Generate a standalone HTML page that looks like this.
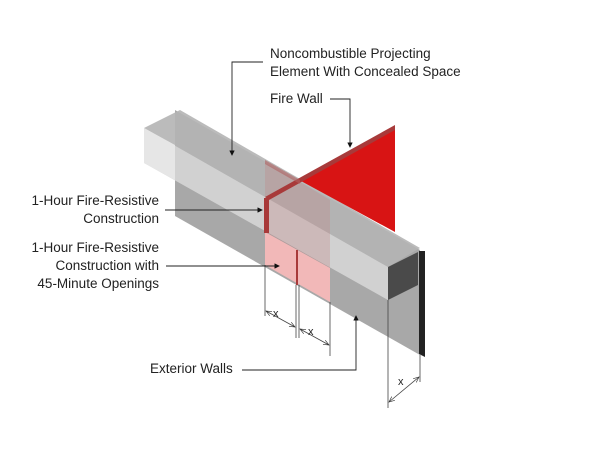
<!DOCTYPE html>
<html><head><style>
body{margin:0;background:#fff;}
svg{display:block;}
text{font-family:"Liberation Sans",sans-serif;font-size:13.5px;fill:#222;}
</style></head><body>
<svg width="600" height="450" viewBox="0 0 600 450" xmlns="http://www.w3.org/2000/svg">
<defs>
<marker id="a" markerWidth="6" markerHeight="6" refX="5" refY="3" orient="auto"><path d="M0,0L6,3L0,6z" fill="#111"/></marker>
<marker id="o" markerWidth="8" markerHeight="8" refX="7" refY="4" orient="auto"><path d="M0,1L7,4L0,7" fill="none" stroke="#333" stroke-width="0.8"/></marker>
<marker id="os" markerWidth="8" markerHeight="8" refX="1" refY="4" orient="auto"><path d="M8,1L1,4L8,7" fill="none" stroke="#333" stroke-width="0.8"/></marker>
</defs>
<!-- exterior wall -->
<polygon points="175,110 420,250 420,355 175,216" fill="#a8a8a8"/>
<polygon points="419,251 425,251 425,357 419,354" fill="#222"/>
<!-- pink openings -->
<polygon points="265,232 330,268 330,302 265,265" fill="#f2b8b8"/>
<!-- beam top face -->
<polygon points="144,128 180,110 420,248 388,267" fill="#b4b4b4" opacity="0.9"/>
<!-- beam front face -->
<polygon points="144,128 388,267 388,300 144,163" fill="#d8d8d8" opacity="0.85"/>
<polygon points="144,128 175,145 175,180 144,163" fill="#e6e6e6"/>
<!-- reddish tint band over beam -->
<polygon points="265,163 300,182 330,200 330,268 265,232" fill="#c08080" opacity="0.3"/>
<!-- end face -->
<polygon points="388,267 418,252 418,285 388,300" fill="#4a4a4a"/>
<!-- red fire wall -->
<polygon points="301,181 395,127 395,232" fill="#d81414"/>
<!-- red edges -->
<polygon points="265,197 395,125 395,130 269,200" fill="#a83a3a"/>
<polygon points="264,198 269,198 269,233 264,233" fill="#a83a3a"/>
<line x1="297" y1="250" x2="297" y2="285" stroke="#a83a3a" stroke-width="2"/>
<polygon points="265,160 300,180 300,184 265,164" fill="#b06060" opacity="0.6"/>
<!-- dimension lines -->
<g stroke="#444" stroke-width="0.8" fill="none">
<line x1="265" y1="265" x2="265" y2="316"/>
<line x1="296" y1="285" x2="296" y2="338"/>
<line x1="299" y1="285" x2="299" y2="338"/>
<line x1="330" y1="302" x2="330" y2="356"/>
<line x1="388" y1="300" x2="388" y2="408"/>
<line x1="420" y1="355" x2="420" y2="382"/>
<line x1="266" y1="311" x2="295" y2="327" marker-start="url(#os)" marker-end="url(#o)"/>
<line x1="300" y1="329" x2="329" y2="345" marker-start="url(#os)" marker-end="url(#o)"/>
<line x1="389" y1="402" x2="419" y2="377" marker-start="url(#os)" marker-end="url(#o)"/>
</g>
<text x="273" y="317" style="font-size:11px">x</text>
<text x="308" y="335" style="font-size:11px">x</text>
<text x="398" y="385" style="font-size:11px">x</text>
<!-- leaders -->
<g stroke="#222" stroke-width="0.9" fill="none">
<polyline points="263,62 232,62 232,155" marker-end="url(#a)"/>
<polyline points="330,99 350,99 350,147" marker-end="url(#a)"/>
<line x1="165" y1="210" x2="262" y2="210" marker-end="url(#a)"/>
<line x1="166" y1="266" x2="279" y2="266" marker-end="url(#a)"/>
<polyline points="242,370 356,370 356,316" marker-end="url(#a)"/>
</g>
<text x="270" y="58">Noncombustible Projecting</text>
<text x="270" y="76">Element With Concealed Space</text>
<text x="270" y="103">Fire Wall</text>
<text x="159" y="205" text-anchor="end">1-Hour Fire-Resistive</text>
<text x="159" y="223" text-anchor="end">Construction</text>
<text x="159" y="252" text-anchor="end">1-Hour Fire-Resistive</text>
<text x="159" y="270" text-anchor="end">Construction with</text>
<text x="159" y="288" text-anchor="end">45-Minute Openings</text>
<text x="150" y="373">Exterior Walls</text>
</svg>
</body></html>
